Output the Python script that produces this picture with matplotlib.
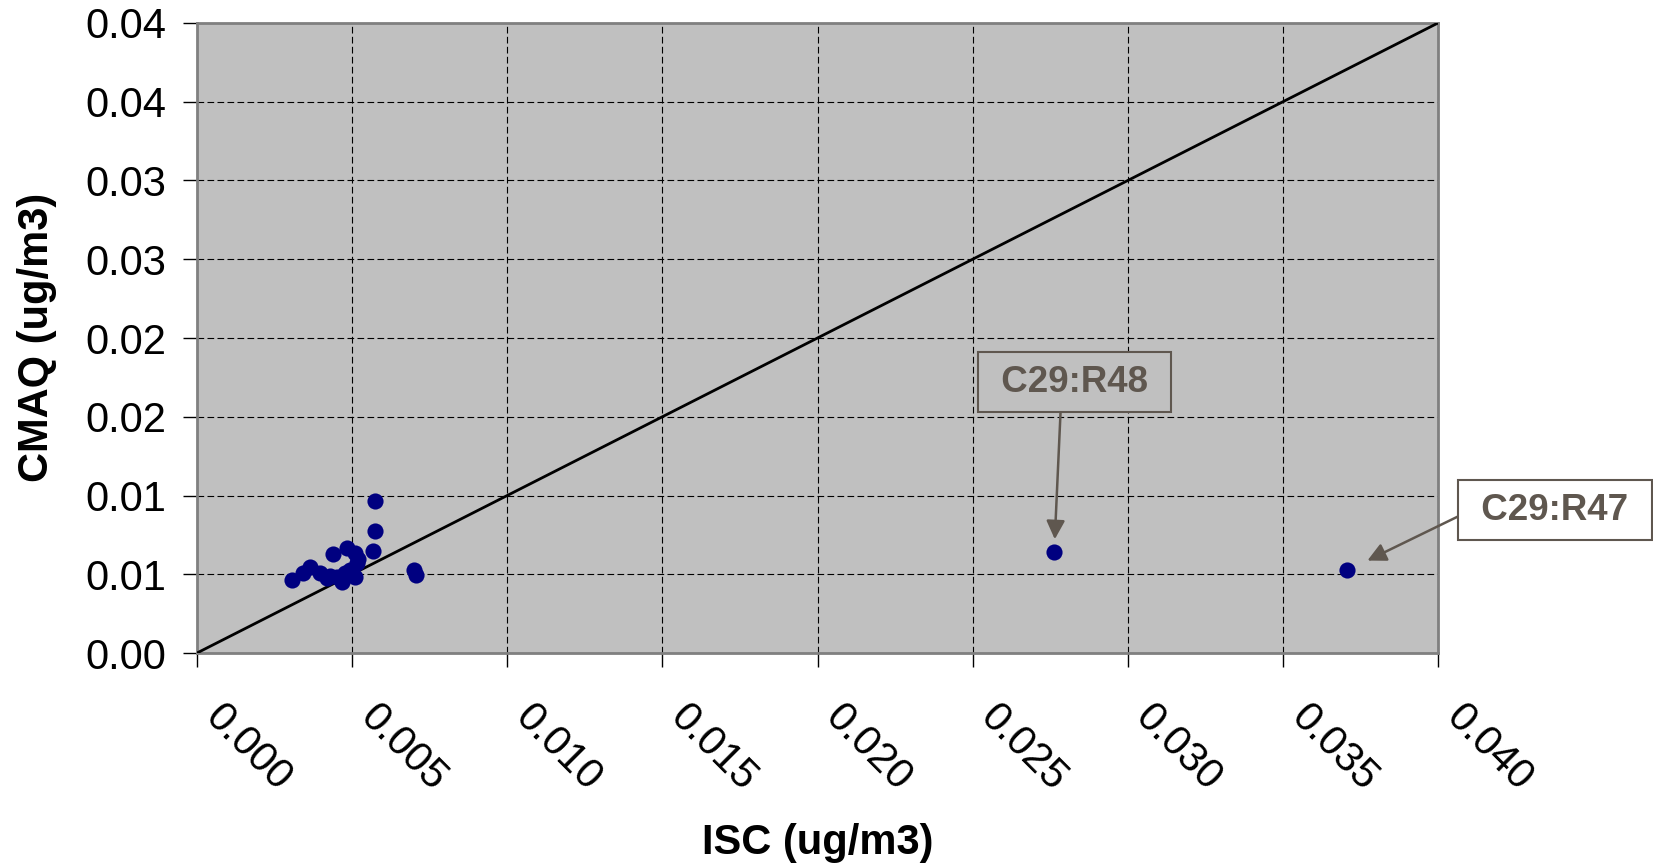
import matplotlib
matplotlib.use("Agg")
import matplotlib.pyplot as plt
import matplotlib.transforms as mtransforms
import numpy as np

# Data
isc = [0.00305, 0.00575, 0.00575, 0.00566, 0.00700, 0.00706, 0.00439, 0.00483,
       0.00510, 0.00364, 0.00343, 0.00396, 0.00418, 0.00450, 0.00466, 0.00493,
       0.00510, 0.00515, 0.00520, 0.00430, 0.00477, 0.02763, 0.03708]
cmaq = [0.00463, 0.00965, 0.00775, 0.00648, 0.00527, 0.00495, 0.00627, 0.00665,
        0.00633, 0.00548, 0.00506, 0.00506, 0.00474, 0.00484, 0.00453, 0.00527,
        0.00484, 0.00570, 0.00600, 0.00490, 0.00506, 0.00643, 0.00525]
x_ticks = [0.0, 0.005, 0.010, 0.015, 0.020, 0.025, 0.030, 0.035, 0.040]
x_tick_labels = ["0.000", "0.005", "0.010", "0.015", "0.020", "0.025", "0.030", "0.035", "0.040"]
y_ticks = [0.0, 0.005, 0.010, 0.015, 0.020, 0.025, 0.030, 0.035, 0.040]
y_tick_labels = ["0.00", "0.01", "0.01", "0.02", "0.02", "0.03", "0.03", "0.04", "0.04"]
one_to_one = [0.0, 0.04]
labels = ["C29:R48", "C29:R47"]

plt.rcParams['font.family'] = ['Liberation Sans', 'DejaVu Sans']

fig = plt.figure(figsize=(16.53, 8.63), dpi=100)
ax = fig.add_axes([197/1653, 1 - 653/863, (1438-197)/1653, (653-23)/863])
ax.set_facecolor('#c0c0c0')

ax.set_xlim(0, 0.04)
ax.set_ylim(0, 0.04)
ax.set_xticks(x_ticks)
ax.set_xticklabels(x_tick_labels, rotation=-45, ha='left', va='top', rotation_mode='anchor')
ax.set_yticks(y_ticks)
ax.set_yticklabels(y_tick_labels)
ax.tick_params(axis='both', labelsize=30, length=10, width=1, color='black', direction='out')
ax.tick_params(axis='x', pad=22)
ax.tick_params(axis='y', pad=12)

offset = mtransforms.ScaledTranslation(28/100, 0/100, fig.dpi_scale_trans)
for lbl in ax.get_xticklabels():
    lbl.set_transform(lbl.get_transform() + offset)

ax.grid(True, color='black', linestyle=(0, (6, 3)), linewidth=0.8)
ax.set_axisbelow(True)
for s in ax.spines.values():
    s.set_color('#808080')
    s.set_linewidth(2)

ax.plot(one_to_one, one_to_one, color='black', linewidth=2, zorder=3)
ax.scatter(isc, cmaq, s=135, color='#000080', zorder=4, linewidths=0)

txtc = '#5f574f'
ax.annotate(' ' + labels[0] + ' ', xy=(isc[21], cmaq[21]), xycoords='data',
            xytext=(1074.5/1653, 1 - 382/863), textcoords='figure fraction',
            ha='center', va='center', fontsize=26.5, fontweight='bold', color=txtc,
            bbox=dict(boxstyle='square,pad=0.35', fc='#c0c0c0', ec=txtc, lw=1.5),
            arrowprops=dict(arrowstyle='-|>', color=txtc, lw=1.8, mutation_scale=28,
                            relpos=(0.42, 0), shrinkA=0, shrinkB=9), zorder=5)
ax.annotate(' ' + labels[1] + ' ', xy=(isc[22], cmaq[22]), xycoords='data',
            xytext=(1555/1653, 1 - 510/863), textcoords='figure fraction',
            ha='center', va='center', fontsize=26.5, fontweight='bold', color=txtc,
            bbox=dict(boxstyle='square,pad=0.35', fc='white', ec=txtc, lw=1.5),
            arrowprops=dict(arrowstyle='-|>', color=txtc, lw=1.8, mutation_scale=28,
                            relpos=(0, 0.5), shrinkA=0, shrinkB=16), zorder=5,
            annotation_clip=False)

fig.text(818/1653, 1 - 843/863, 'ISC (ug/m3)', ha='center', va='center',
         fontsize=30, fontweight='bold')
fig.text(37/1653, 1 - 337/863, 'CMAQ (ug/m3)', ha='center', va='center',
         fontsize=30, fontweight='bold', rotation=90)

fig.savefig('out.png', dpi=100)
